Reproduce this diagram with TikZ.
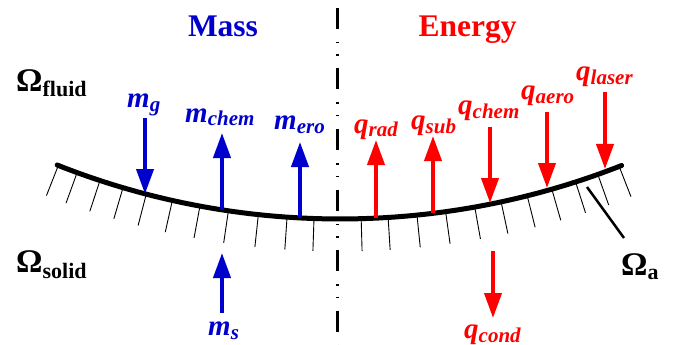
\documentclass[tikz,border=0pt]{standalone}
\usepackage{fontspec}
\setmainfont{Liberation Serif}
\usetikzlibrary{arrows.meta}
\definecolor{mblue}{RGB}{0,0,204}
\definecolor{ered}{RGB}{255,0,0}
\newcommand{\fluxlbl}[2]{{\fontsize{29}{29}\selectfont\bfseries\itshape #1}\raisebox{-4pt}{\fontsize{21}{21}\selectfont\bfseries\itshape #2}}
\newcommand{\domlbl}[2]{{\fontsize{33}{33}\selectfont\bfseries Ω}\raisebox{#2}{\fontsize{22}{22}\selectfont\bfseries #1}}
\tikzset{
  flow/.style={line width=4pt,-{Triangle[length=25pt,width=17pt]}},
  lbl/.style={inner sep=0pt,anchor=base west},
  head/.style={inner sep=0pt,anchor=base,font=\fontsize{31.5}{31.5}\selectfont\bfseries},
  hatch/.style={line width=0.9pt},
  surface/.style={line width=5pt,line cap=round},
  axisline/.style={line width=2.2pt,dash pattern=on 21pt off 13pt on 1.5pt off 11pt on 1.5pt off 12.5pt},
}
\begin{document}
\begin{tikzpicture}[x=1pt,y=-1pt]
\useasboundingbox (0,0) rectangle (681,345);
% symmetry axis
\coordinate (ax1) at (337.5,8);
\coordinate (ax2) at (337.5,345);
\draw[axisline] (ax1) -- (ax2);
% hatching
\foreach \a in {-21.5,-20.0,-18.2,-16.4,-14.6,-12.6,-10.5,-8.35,-6.1,-3.95,-1.94,1.58,3.59,5.75,7.9,10.1,12.1,14.1,16.0,17.85,19.6,21.3}
  \draw[hatch] ({340+770*sin(\a)},{-549.6+770*cos(\a)}) -- ({340+801*sin(\a)},{-549.6+801*cos(\a)});
% surface
\draw[surface] plot[domain=-21.6:21.5,samples=80,variable=\a] ({340+768.6*sin(\a)},{-549.6+768.6*cos(\a)});
% headers
\node[head,text=mblue] (mass) at (223,37) {Mass};
\node[head,text=ered] (energy) at (467.5,37) {Energy};
% domain labels
\node[lbl] (of) at (16,92) {\domlbl{fluid}{-5pt}};
\node[lbl] (os) at (16,272) {\domlbl{solid}{-6pt}};
\node[lbl] (oa) at (621,275) {\domlbl{a}{-4pt}};
\coordinate (la1) at (587,187);
\coordinate (la2) at (624,238);
\draw[line width=2.5pt] (la1) -- (la2);
% mass fluxes
\begin{scope}[color=mblue]
\node[lbl] (lmg) at (127,107) {\fluxlbl{m}{g}};
\node[lbl] (lmc) at (185,122) {\fluxlbl{m}{chem}};
\node[lbl] (lme) at (274,129) {\fluxlbl{m}{ero}};
\node[lbl] (lms) at (208,335) {\fluxlbl{m}{s}};
\coordinate (mg1) at (145,118); \coordinate (mg2) at (145,194);
\coordinate (mc1) at (222,210); \coordinate (mc2) at (222,133);
\coordinate (me1) at (300,218); \coordinate (me2) at (300,142);
\coordinate (ms1) at (222,313); \coordinate (ms2) at (222,253);
\draw[flow] (mg1) -- (mg2);
\draw[flow] (mc1) -- (mc2);
\draw[flow] (me1) -- (me2);
\draw[flow] (ms1) -- (ms2);
\end{scope}
% energy fluxes
\begin{scope}[color=ered]
\node[lbl] (lqr) at (354,133) {\fluxlbl{q}{rad}};
\node[lbl] (lqs) at (411,129) {\fluxlbl{q}{sub}};
\node[lbl] (lqc) at (458,115) {\fluxlbl{q}{chem}};
\node[lbl] (lqa) at (521,100) {\fluxlbl{q}{aero}};
\node[lbl] (lql) at (576,81) {\fluxlbl{q}{laser}};
\node[lbl] (lqd) at (464,338) {\fluxlbl{q}{cond}};
\coordinate (qr1) at (376,218); \coordinate (qr2) at (376,140);
\coordinate (qs1) at (433,213); \coordinate (qs2) at (433,136);
\coordinate (qc1) at (490,127); \coordinate (qc2) at (490,203);
\coordinate (qa1) at (547,112); \coordinate (qa2) at (547,188);
\coordinate (ql1) at (605,92);  \coordinate (ql2) at (605,169);
\coordinate (qd1) at (493,251); \coordinate (qd2) at (493,318);
\draw[flow] (qr1) -- (qr2);
\draw[flow] (qs1) -- (qs2);
\draw[flow] (qc1) -- (qc2);
\draw[flow] (qa1) -- (qa2);
\draw[flow] (ql1) -- (ql2);
\draw[flow] (qd1) -- (qd2);
\end{scope}
\end{tikzpicture}
\end{document}
